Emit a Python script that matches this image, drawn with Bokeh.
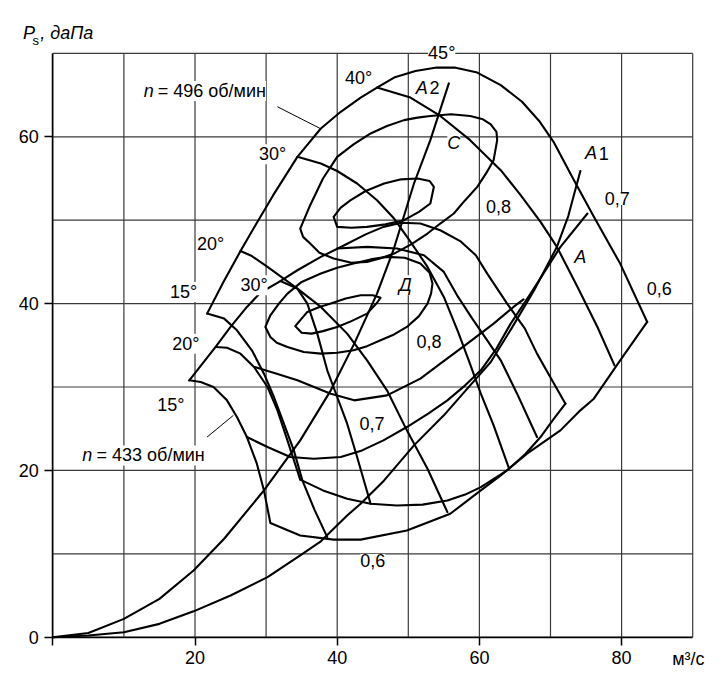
from bokeh.plotting import figure
from bokeh.models import Range1d, FixedTicker, Label, LinearAxis
from bokeh.embed import file_html
from bokeh.resources import INLINE

FONT = "Liberation Sans"

# ---------------- data (Q in m3/s, Ps in daPa) ----------------
# n = 496 rpm : stall line + 45 deg curve
n496_45_q = [21.7, 24.0, 26.4, 28.5, 31.0, 34.4, 37.7, 40.5, 43.3, 45.6, 48.0, 51.0, 54.0, 56.5, 59.7, 63.0, 66.0, 68.5, 70.5, 73.3, 76.1, 79.8, 83.6]
n496_45_p = [38.8, 42.6, 46.3, 49.4, 53.0, 57.6, 61.0, 63.0, 64.7, 65.9, 67.1, 67.9, 68.3, 68.3, 67.7, 66.2, 64.2, 61.8, 59.3, 54.8, 50.4, 44.8, 37.8]
n496_40_q = [45.6, 50.3, 54.5, 58.7, 63.0, 65.8, 68.6, 70.9, 73.8, 76.6, 79.0]
n496_40_p = [65.9, 64.7, 62.5, 59.6, 56.0, 53.0, 49.8, 46.8, 42.0, 37.2, 32.6]
n496_30_q = [34.4, 37.7, 40.0, 42.8, 45.6, 48.0, 50.0, 52.7, 55.0, 57.0, 58.5, 60.2, 62.0, 64.1]
n496_30_p = [57.6, 56.8, 55.9, 54.4, 52.4, 50.2, 47.8, 44.4, 40.8, 36.6, 33.2, 29.2, 25.4, 20.4]
n496_20_q = [26.4, 28.0, 30.2, 34.4, 37.7, 41.4, 44.2, 47.0, 49.8, 52.7, 55.5]
n496_20_p = [46.3, 45.7, 44.4, 41.8, 39.6, 36.4, 33.2, 29.6, 24.8, 20.2, 15.0]
n496_15_q = [21.7, 24.1, 25.9, 28.0, 29.7, 31.1, 32.5, 33.9, 35.1, 36.8, 38.6]
n496_15_p = [38.8, 38.2, 36.8, 34.4, 31.6, 28.8, 25.6, 22.4, 18.8, 15.3, 12.0]

# n = 433 rpm : 15 deg curve + common lower boundary (0.6)
n433_15_q = [19.2, 20.8, 22.6, 24.5, 25.9, 27.3, 28.7, 29.7, 30.6, 34.8, 39.5, 43.3, 49.8, 55.9, 60.2, 63.0, 66.7, 71.4, 74.2, 76.1, 79.8, 83.6]
n433_15_p = [30.8, 30.6, 30.0, 28.4, 26.4, 24.0, 20.8, 17.6, 13.7, 12.2, 11.7, 11.7, 12.8, 14.8, 17.6, 19.4, 22.0, 24.8, 27.2, 28.6, 33.2, 37.8]
# n = 433 rpm : stall line + 45 deg curve
n433_45_q = [19.2, 22.9, 25.0, 27.3, 29.2, 32.0, 34.4, 37.7, 41.0, 44.0, 46.5, 49.0, 51.7, 54.5, 57.3, 59.5, 61.1, 63.9, 66.4, 68.1, 70.1, 72.1]
n433_45_p = [30.8, 34.8, 37.2, 39.6, 41.3, 42.7, 44.0, 45.6, 47.0, 48.3, 49.2, 49.7, 49.6, 48.8, 47.5, 45.8, 43.6, 40.0, 37.0, 34.0, 31.0, 28.0]
# n = 433 rpm : lower boundary of the 20..45 deg field
n433_low_q = [34.8, 38.0, 41.4, 44.7, 48.4, 52.0, 55.5, 58.0, 60.2, 63.9, 66.5, 68.6, 70.3, 72.1]
n433_low_p = [18.9, 17.6, 16.6, 16.0, 15.8, 15.9, 16.4, 17.1, 18.0, 20.0, 22.0, 24.0, 26.0, 28.0]
n433_40_q = [40.0, 44.2, 48.4, 52.2, 55.0, 57.0, 59.0, 61.1, 63.0, 65.3, 68.1]
n433_40_p = [46.6, 46.8, 46.6, 45.8, 43.8, 40.8, 38.2, 35.6, 33.2, 29.2, 24.0]
n433_30_q = [32.0, 34.4, 35.8, 37.2, 38.6, 40.0, 41.4, 42.8, 44.7]
n433_30_p = [42.7, 41.8, 40.0, 36.4, 32.0, 28.8, 25.6, 21.6, 16.0]
n433_20_q = [22.9, 24.5, 26.4, 28.3, 30.2, 31.6, 33.0, 34.8]
n433_20_p = [34.8, 34.7, 34.0, 32.4, 30.0, 27.2, 23.6, 18.9]

# efficiency contours
eta08_C_q = [34.8, 36.2, 38.0, 40.0, 42.3, 44.7, 47.0, 49.4, 51.3, 53.1, 56.0, 58.7, 60.5, 61.6, 62.4, 62.5, 62.0, 61.0, 59.7, 58.0, 56.4, 54.5, 52.7, 50.4, 48.0, 46.0, 44.2, 42.0, 39.5, 37.5, 36.2, 35.2, 34.8]
eta08_C_p = [49.0, 51.8, 55.0, 57.6, 59.1, 60.4, 61.3, 62.0, 62.3, 62.5, 62.7, 62.5, 62.1, 61.5, 60.6, 59.6, 57.2, 55.7, 54.0, 52.4, 50.8, 49.6, 48.4, 47.1, 46.0, 45.4, 45.0, 44.9, 45.4, 46.1, 47.2, 48.0, 49.0]
etamax_C_q = [39.5, 40.5, 41.9, 44.0, 46.6, 49.0, 51.3, 53.0, 53.6, 53.1, 51.5, 49.4, 46.8, 44.2, 42.0, 40.0, 39.5]
etamax_C_p = [50.4, 51.5, 52.4, 53.5, 54.4, 54.9, 55.0, 54.7, 54.0, 52.0, 51.0, 50.0, 49.5, 49.2, 49.1, 49.2, 50.4]
eta08_D_q = [29.9, 30.6, 31.8, 33.0, 35.0, 37.7, 40.0, 42.3, 44.7, 47.0, 49.5, 51.7, 53.0, 53.4, 53.2, 52.7, 51.5, 49.8, 48.0, 46.1, 44.2, 42.3, 40.0, 37.7, 35.3, 33.0, 31.5, 30.6, 29.9]
eta08_D_p = [37.2, 38.6, 40.0, 41.2, 42.6, 43.6, 44.3, 44.8, 45.3, 45.6, 45.5, 44.8, 43.7, 42.4, 41.2, 40.0, 38.5, 37.2, 36.3, 35.6, 34.9, 34.4, 34.1, 34.0, 34.2, 34.8, 35.3, 36.0, 37.2]
etamax_D_q = [34.1, 35.8, 37.5, 39.1, 41.2, 43.3, 45.0, 46.1, 45.6, 44.2, 42.0, 40.0, 38.0, 36.4, 35.0, 34.1]
etamax_D_p = [37.3, 39.0, 39.6, 40.0, 40.6, 41.0, 41.0, 40.7, 40.1, 38.8, 37.9, 37.2, 36.7, 36.4, 36.5, 37.3]
eta07_433_q = [28.4, 31.5, 34.4, 39.1, 42.4, 47.0, 51.7, 54.5, 58.3, 62.0, 64.8, 66.2]
eta07_433_p = [32.4, 31.6, 30.8, 29.2, 28.4, 29.0, 31.0, 32.8, 35.2, 37.6, 39.6, 40.5]
eta07_496_q = [27.3, 30.2, 33.4, 36.7, 40.5, 43.5, 46.5, 49.8, 52.8, 55.5, 58.0, 60.2, 62.4, 64.4, 67.2, 71.4, 75.2]
eta07_496_p = [24.0, 22.8, 21.6, 21.4, 21.6, 22.4, 23.6, 25.2, 26.8, 28.4, 30.2, 32.0, 34.6, 37.6, 41.2, 46.8, 50.8]

# network characteristics
A2_q = [0, 5, 10, 15, 19.8, 24.1, 29.7, 34.8, 39.1, 42.4, 45.6, 47.9, 50.8, 53.1, 55.7]
A2_p = [0, 0.5, 2.2, 4.6, 8.0, 11.8, 17.6, 23.6, 29.6, 35.2, 41.2, 46.4, 54.4, 59.6, 66.4]
A1_q = [0, 5, 10, 15, 19.8, 25.0, 30.2, 34.8, 37.7, 41.4, 43.3, 46.6, 50.8, 55.0, 58.3, 61.6, 64.5, 67.7, 70.9, 72.5, 74.2]
A1_p = [0, 0.2, 0.6, 1.6, 3.1, 5.0, 7.2, 9.8, 11.5, 14.6, 16.0, 18.8, 23.0, 26.6, 29.8, 33.0, 37.0, 41.6, 46.8, 50.5, 55.9]

# leader lines of the speed captions
lead496_q = [31.6, 37.6]
lead496_p = [63.6, 61.0]
lead433_q = [21.7, 25.4]
lead433_p = [24.0, 26.6]

# axes / grid
x_lim = (0, 90)
y_lim = (0, 70)
x_ticks = [0, 20, 40, 60, 80]
y_ticks = [0, 20, 40, 60]
grid_x = [0, 10, 20, 30, 40, 50, 60, 70, 80, 90]
grid_y = [0, 10, 20, 30, 40, 50, 60, 70]

# text annotations: (text, q, p, italic)
notes = [
    ("45°", 54.7, 70.1, False),
    ("40°", 43.0, 67.1, False),
    ("30°", 30.9, 57.9, False),
    ("20°", 22.2, 47.2, False),
    ("15°", 18.4, 41.4, False),
    ("30°", 28.3, 42.2, False),
    ("20°", 18.7, 35.2, False),
    ("15°", 16.6, 27.8, False),
    ("C", 56.4, 59.2, True),
    ("Д", 49.6, 42.2, True),
    ("0,8", 62.7, 51.6, False),
    ("0,7", 79.4, 52.6, False),
    ("0,6", 85.3, 41.8, False),
    ("0,8", 52.9, 35.4, False),
    ("0,7", 44.9, 25.6, False),
    ("0,6", 45.0, 9.2, False),
]

# ---------------- figure ----------------
# the frame covers the whole canvas; the chart box is 0..90 x 0..70
W, H = 719, 676
x0_px, x_scale = 52.3, 7.11
y0_px, y_scale = 636.7, 8.34
xr = Range1d(-x0_px / x_scale, (W - x0_px) / x_scale)
yr = Range1d(y0_px / y_scale - H / y_scale, y0_px / y_scale)

p = figure(width=W, height=H, output_backend="svg", toolbar_location=None,
           x_range=xr, y_range=yr, x_axis_location=None, y_axis_location=None,
           min_border=0)
p.outline_line_color = None
p.background_fill_color = "white"
p.border_fill_color = "white"
p.grid.visible = False

# grid lines and frame of the chart box
p.segment(x0=grid_x, y0=[y_lim[0]] * len(grid_x), x1=grid_x, y1=[y_lim[1]] * len(grid_x),
          line_color="#3a3a3a", line_width=1.2)
p.segment(x0=[x_lim[0]] * len(grid_y), y0=grid_y, x1=[x_lim[1]] * len(grid_y), y1=grid_y,
          line_color="#3a3a3a", line_width=1.2)

xaxis = LinearAxis(fixed_location=0, bounds=x_lim, ticker=FixedTicker(ticks=x_ticks))
yaxis = LinearAxis(fixed_location=0, bounds=y_lim, ticker=FixedTicker(ticks=y_ticks))
xaxis.major_label_overrides = {0: ""}
for ax in (xaxis, yaxis):
    ax.axis_line_color = "black"
    ax.axis_line_width = 1.5
    ax.major_tick_in = 0
    ax.major_tick_out = 8
    ax.major_tick_line_color = "black"
    ax.major_tick_line_width = 1.5
    ax.minor_tick_line_color = None
    ax.major_label_text_font = FONT
    ax.major_label_text_font_size = "18px"
    ax.major_label_text_color = "black"
    ax.major_label_standoff = 6
p.add_layout(xaxis, "below")
p.add_layout(yaxis, "left")

curves = [
    (n496_45_q, n496_45_p), (n496_40_q, n496_40_p), (n496_30_q, n496_30_p),
    (n496_20_q, n496_20_p), (n496_15_q, n496_15_p),
    (n433_15_q, n433_15_p), (n433_45_q, n433_45_p), (n433_low_q, n433_low_p),
    (n433_40_q, n433_40_p), (n433_30_q, n433_30_p), (n433_20_q, n433_20_p),
    (eta08_C_q, eta08_C_p), (etamax_C_q, etamax_C_p),
    (eta08_D_q, eta08_D_p), (etamax_D_q, etamax_D_p),
    (eta07_433_q, eta07_433_p), (eta07_496_q, eta07_496_p),
    (A2_q, A2_p), (A1_q, A1_p),
]
for q, pr in curves:
    p.line(q, pr, line_color="black", line_width=2.1, line_join="round", line_cap="round")

p.line(lead496_q, lead496_p, line_color="black", line_width=1)
p.line(lead433_q, lead433_p, line_color="black", line_width=1)

def lab(text, x, y, italic=False, size="18px", align="center", bg="white"):
    p.add_layout(Label(x=x, y=y, text=text, text_font=FONT, text_font_size=size,
                       text_font_style="italic" if italic else "normal",
                       text_align=align, text_baseline="middle", text_color="black",
                       background_fill_color=bg))

for t, x, y, it in notes:
    lab(t, x, y, it)

# A-labels (italic letter + upright digit)
lab("A", 51.9, 65.9, True)
lab("2", 53.7, 65.9, False, bg=None)
lab("A", 75.7, 58.0, True)
lab("1", 77.5, 58.0, False, bg=None)
lab("A", 74.2, 45.6, True)

# speed captions
lab("n", 13.5, 65.5, True)
lab("= 496 об/мин", 14.75, 65.5, False, align="left")
lab("n", 4.85, 21.8, True)
lab("= 433 об/мин", 6.15, 21.8, False, align="left")

# axis titles
lab("P", -4.2, 72.5, True, align="left", bg=None)
lab("s", -2.85, 71.6, False, size="13px", align="left", bg=None)
lab(", даПа", -1.75, 72.5, True, align="left", bg=None)
lab("м³/с", 89.4, -2.6, False, bg=None)

open("out.html", "w").write(file_html(p, INLINE))
